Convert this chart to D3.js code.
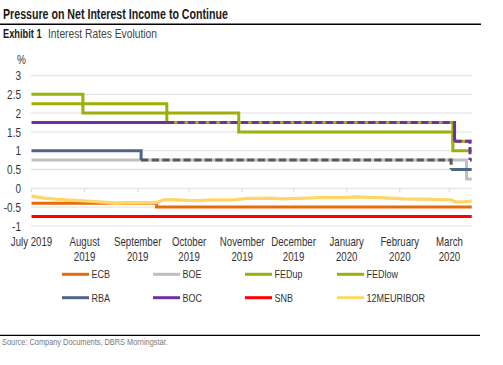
<!DOCTYPE html>
<html>
<head>
<meta charset="utf-8">
<script src="https://cdn.jsdelivr.net/npm/d3@7"></script>
<style>
  body { margin: 0; background: #fff; }
  text { font-family: "Liberation Sans", Arial, sans-serif; }
</style>
</head>
<body>
<svg id="chart" width="503" height="365"></svg>
<script>
'use strict';
const parseDate = d3.timeParse("%Y-%m-%d");

// axis
const startDate = "2019-07-01";
const endDate = "2020-03-14";
const monthTicks = ["2019-07-01", "2019-08-01", "2019-09-01", "2019-10-01", "2019-11-01",
  "2019-12-01", "2020-01-01", "2020-02-01", "2020-03-01"];
const monthLabels = ["July 2019", "August 2019", "September 2019", "October 2019", "November 2019",
  "December 2019", "January 2020", "February 2020", "March 2020"];
const yTicks = [-1, -0.5, 0, 0.5, 1, 1.5, 2, 2.5, 3];

// policy rates: [date of change, rate]
const ecb = [["2019-07-01", -0.4], ["2019-09-12", -0.5]];
const boe = [["2019-07-01", 0.75], ["2020-03-11", 0.25]];
const fedUp = [["2019-07-01", 2.5], ["2019-07-31", 2.25], ["2019-09-18", 2.0], ["2019-10-30", 1.75], ["2020-03-03", 1.25]];
const fedLow = [["2019-07-01", 2.25], ["2019-07-31", 2.0], ["2019-09-18", 1.75], ["2019-10-30", 1.5], ["2020-03-03", 1.0]];
const rba = [["2019-07-01", 1.0], ["2019-09-03", 0.75], ["2020-03-02", 0.5]];
const boc = [["2019-07-01", 1.75], ["2020-03-04", 1.25], ["2020-03-13", 0.75]];
const snb = [["2019-07-01", -0.75]];

// 12M euribor, read off roughly weekly
const euriborDates = ["2019-07-01", "2019-07-08", "2019-07-15", "2019-07-22", "2019-07-29", "2019-08-05",
  "2019-08-12", "2019-08-19", "2019-08-26", "2019-09-02", "2019-09-09", "2019-09-12", "2019-09-16",
  "2019-09-23", "2019-09-30", "2019-10-07", "2019-10-14", "2019-10-21", "2019-10-28", "2019-11-04",
  "2019-11-11", "2019-11-18", "2019-11-25", "2019-12-02", "2019-12-09", "2019-12-16", "2019-12-23",
  "2019-12-30", "2020-01-06", "2020-01-13", "2020-01-20", "2020-01-27", "2020-02-03", "2020-02-10",
  "2020-02-17", "2020-02-24", "2020-03-02", "2020-03-05", "2020-03-09", "2020-03-12", "2020-03-14"];
const euriborValues = [-0.21, -0.26, -0.29, -0.31, -0.33, -0.35, -0.37, -0.40, -0.38, -0.39, -0.38, -0.38,
  -0.31, -0.30, -0.32, -0.33, -0.31, -0.31, -0.30, -0.27, -0.27, -0.26, -0.28, -0.27, -0.26, -0.25,
  -0.25, -0.25, -0.23, -0.24, -0.25, -0.26, -0.28, -0.29, -0.29, -0.30, -0.31, -0.37, -0.36, -0.35, -0.33];

const stepSeries = [
  { name: "ECB", data: ecb, color: "#E46C0A" },
  { name: "BOE", data: boe, color: "#BFBFBF" },
  { name: "FEDup", data: fedUp, color: "#9DAF0B" },
  { name: "FEDlow", data: fedLow, color: "#9DAF0B" },
  { name: "RBA", data: rba, color: "#4C6685", overlapColor: "#5A5A5A" },
  { name: "BOC", data: boc, color: "#7030A0" },
  { name: "SNB", data: snb, color: "#FF0000" }
];
const euriborColor = "#FFD666";
const legendItems = stepSeries.map(s => ({ name: s.name, color: s.color }))
  .concat([{ name: "12MEURIBOR", color: euriborColor }]);

const svg = d3.select("#chart");
const narrow = 0.82; // no condensed face installed, so squeeze the regular one

function at(px, py, sx) {
  return "translate(" + px + "," + py + ") scale(" + (sx || narrow) + ",1.05)";
}
// squeeze a header text so it spans the same width as in the source
function fitTo(sel, px, py, w) {
  const len = sel.node().getComputedTextLength();
  sel.attr("transform", at(px, py, len ? w / len : narrow));
}

// titles
fitTo(svg.append("text")
  .style("font-size", "13.6px").style("font-weight", "bold").attr("fill", "#1a1a1a")
  .text("Pressure on Net Interest Income to Continue"), 3, 19, 225);
svg.append("line").attr("x1", 0).attr("x2", 481).attr("y1", 24.3).attr("y2", 24.3)
  .attr("stroke", "#000").attr("stroke-width", 1.5);
fitTo(svg.append("text")
  .style("font-size", "11.4px").style("font-weight", "bold").attr("fill", "#1a1a1a")
  .text("Exhibit 1"), 3, 38, 38.7);
fitTo(svg.append("text")
  .style("font-size", "12px").attr("fill", "#444")
  .text("Interest Rates Evolution"), 48, 38, 109);

const x = d3.scaleTime()
  .domain([parseDate(startDate), parseDate(endDate)])
  .range([31.5, 471.7]);
const y = d3.scaleLinear().domain([-1, 3]).range([225.9, 75.5]);

// grid
svg.append("g").selectAll("line").data(yTicks).join("line")
  .attr("x1", 31).attr("x2", 472)
  .attr("y1", d => y(d)).attr("y2", d => y(d))
  .attr("stroke", "#E4E4E4").attr("stroke-width", 1.3);

svg.append("g").selectAll("text").data(yTicks).join("text")
  .attr("transform", d => at(21, y(d))).attr("dy", "0.36em")
  .attr("text-anchor", "end").style("font-size", "12.2px").attr("fill", "#333")
  .text(d => d);
svg.append("text").attr("transform", at(21.5, 64)).attr("text-anchor", "middle")
  .style("font-size", "12.2px").attr("fill", "#333").text("%");

// month ticks on the zero line
const tickDates = monthTicks.map(parseDate);
svg.append("g").selectAll("line").data(tickDates).join("line")
  .attr("x1", d => x(d)).attr("x2", d => x(d))
  .attr("y1", y(0)).attr("y2", y(0) + 4)
  .attr("stroke", "#E0E0E0").attr("stroke-width", 1.3);

const xLab = svg.append("g").selectAll("text").data(tickDates).join("text")
  .attr("transform", d => at(x(d), 246))
  .attr("text-anchor", "middle").style("font-size", "11.8px").attr("fill", "#333");
xLab.each(function (d, i) {
  const lines = i === 0 ? [monthLabels[i]] : monthLabels[i].split(" ");
  d3.select(this).selectAll("tspan").data(lines).join("tspan")
    .attr("x", 0).attr("dy", (l, j) => j ? 14.1 : 0).text(l => l);
});

// step series, dashed where they sit on top of an earlier series
function valueAt(data, t) {
  let v = data[0][1];
  for (const c of data) if (+parseDate(c[0]) <= t) v = c[1];
  return v;
}
const t0 = +parseDate(startDate), t1 = +parseDate(endDate);
const stepLine = d3.line().x(d => x(d[0])).y(d => y(d[1])).curve(d3.curveStepAfter);

stepSeries.forEach(function (s, k) {
  const earlier = stepSeries.slice(0, k);
  let cuts = [t0, t1];
  [s].concat(earlier).forEach(e => e.data.forEach(c => cuts.push(+parseDate(c[0]))));
  cuts = Array.from(new Set(cuts)).filter(t => t >= t0 && t <= t1).sort((a, b) => a - b);

  const runs = [];
  for (let i = 0; i < cuts.length - 1; ++i) {
    const v = valueAt(s.data, cuts[i]);
    const dashed = earlier.some(e => valueAt(e.data, cuts[i]) === v);
    const last = runs[runs.length - 1];
    if (last && last.dashed === dashed) last.pts.push([new Date(cuts[i]), v]);
    else runs.push({ dashed: dashed, pts: [[new Date(cuts[i]), v]] });
  }
  runs.forEach(function (r, i) {
    const next = runs[i + 1];
    const endT = next ? next.pts[0][0] : new Date(t1);
    r.pts.push([endT, valueAt(s.data, +endT)]);
    if (!next) r.pts[r.pts.length - 1][1] = r.pts[r.pts.length - 2][1];
    svg.append("path")
      .attr("d", stepLine(r.pts))
      .attr("fill", "none")
      .attr("stroke", r.dashed && s.overlapColor ? s.overlapColor : s.color)
      .attr("stroke-width", 3)
      .attr("stroke-dasharray", r.dashed ? "7.2,3.4" : null);
  });
});

// euribor
const euribor = euriborDates.map((d, i) => [parseDate(d), euriborValues[i]]);
svg.append("path")
  .attr("d", d3.line().x(d => x(d[0])).y(d => y(d[1]))(euribor))
  .attr("fill", "none").attr("stroke", euriborColor)
  .attr("stroke-width", 3.2).attr("stroke-linejoin", "round");

// legend
const legendCols = [62, 153, 245, 337];
const legendRows = [274.3, 297.7];
const lg = svg.append("g").selectAll("g").data(legendItems).join("g")
  .attr("transform", (d, i) => "translate(" + legendCols[i % 4] + "," + legendRows[Math.floor(i / 4)] + ")");
lg.append("line").attr("x1", 0).attr("x2", 27)
  .attr("stroke", d => d.color).attr("stroke-width", 3);
lg.append("text").attr("transform", at(29.5, 0)).attr("dy", "0.36em")
  .style("font-size", "11px").attr("fill", "#333").text(d => d.name);

// footer
svg.append("line").attr("x1", 0).attr("x2", 480).attr("y1", 335.3).attr("y2", 335.3)
  .attr("stroke", "#000").attr("stroke-width", 1.2);
fitTo(svg.append("text")
  .style("font-size", "9px").attr("fill", "#777")
  .text("Source: Company Documents, DBRS Morningstar."), 2, 344.5, 166);
</script>
</body>
</html>
